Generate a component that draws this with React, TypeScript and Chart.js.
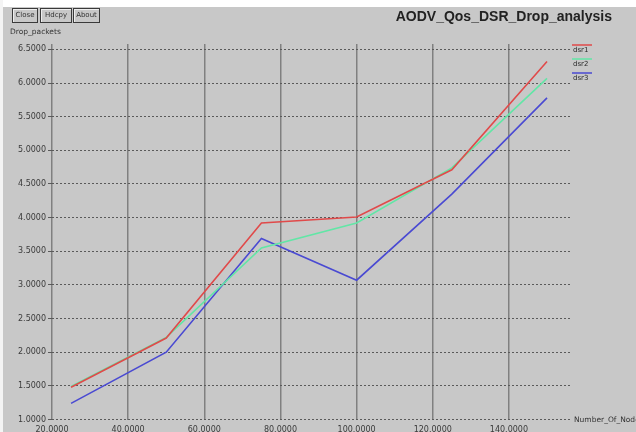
import React, { useEffect, useRef } from "react";
import { Chart, registerables } from "chart.js";

Chart.register(...registerables);

const NODES = [25, 50, 75, 100, 125, 150];
const DSR1 = [1.48, 2.21, 3.92, 4.01, 4.71, 6.32];
const DSR2 = [1.49, 2.22, 3.55, 3.92, 4.74, 6.07];
const DSR3 = [1.24, 2.0, 3.69, 3.07, 4.35, 5.78];
const SERIES_NAMES = ["dsr1", "dsr2", "dsr3"];
const SERIES_COLORS = ["#e04a4a", "#62e6a6", "#4a4ad2"];
const X_TICKS = [20, 40, 60, 80, 100, 120, 140];
const Y_TICKS = [1.0, 1.5, 2.0, 2.5, 3.0, 3.5, 4.0, 4.5, 5.0, 5.5, 6.0, 6.5];
const TITLE = "AODV_Qos_DSR_Drop_analysis";
const X_LABEL = "Number_Of_Nodes";
const Y_LABEL = "Drop_packets";
const BUTTONS = ["Close", "Hdcpy", "About"];

const BG = "#c8c8c8";
const FONT = "'DejaVu Sans', sans-serif";

const legendPlugin = {
  id: "xgraphLegend",
  afterDraw(chart: any) {
    const ctx = chart.ctx;
    ctx.save();
    chart.data.datasets.forEach((ds: any, i: number) => {
      const y = 45 + i * 14;
      ctx.strokeStyle = ds.borderColor;
      ctx.lineWidth = 1.5;
      ctx.beginPath();
      ctx.moveTo(572, y);
      ctx.lineTo(592, y);
      ctx.stroke();
      ctx.fillStyle = "#2a2a2a";
      ctx.font = "7px " + FONT;
      ctx.textBaseline = "middle";
      ctx.textAlign = "left";
      ctx.fillText(ds.label, 573, y + 5);
    });
    ctx.restore();
  },
};

function ChartCanvas() {
  const ref = useRef<HTMLCanvasElement | null>(null);
  useEffect(() => {
    if (!ref.current) return;
    const series = [DSR1, DSR2, DSR3];
    const chart = new Chart(ref.current, {
      type: "line",
      data: {
        datasets: series.map((vals, i) => ({
          label: SERIES_NAMES[i],
          data: NODES.map((x, j) => ({ x, y: vals[j] })),
          borderColor: SERIES_COLORS[i],
          backgroundColor: SERIES_COLORS[i],
          borderWidth: 1.6,
          pointRadius: 0,
          tension: 0,
          fill: false,
        })),
      },
      options: {
        animation: false,
        responsive: false,
        maintainAspectRatio: false,
        layout: { padding: { left: 0, right: 65, top: 44, bottom: 0 } },
        plugins: { legend: { display: false }, title: { display: false }, tooltip: { enabled: false } },
        scales: {
          x: {
            type: "linear",
            min: 20,
            max: 156.3,
            afterBuildTicks: (scale: any) => {
              scale.ticks = X_TICKS.map((v) => ({ value: v }));
            },
            afterFit: (scale: any) => {
              scale.height = 20.5;
            },
            ticks: {
              callback: (v: any) => Number(v).toFixed(4),
              font: { family: FONT, size: 8 },
              color: "#3a3a3a",
              padding: 6,
              maxRotation: 0,
              autoSkip: false,
            },
            grid: { color: "#808080", lineWidth: 1.5, drawTicks: false },
            border: { display: false },
          },
          y: {
            type: "linear",
            min: 1.0,
            max: 6.58,
            afterBuildTicks: (scale: any) => {
              scale.ticks = Y_TICKS.map((v) => ({ value: v }));
            },
            afterFit: (scale: any) => {
              scale.width = 52;
            },
            ticks: {
              callback: (v: any) => Number(v).toFixed(4),
              font: { family: FONT, size: 8 },
              color: "#3a3a3a",
              padding: 2,
              autoSkip: false,
            },
            grid: { color: "#5a5a5a", lineWidth: 1, drawTicks: true, tickLength: 4, tickColor: "#5a5a5a" },
            border: { display: false, dash: [2, 2] },
          },
        },
      },
      plugins: [legendPlugin],
    } as any);
    return () => chart.destroy();
  }, []);
  return <canvas ref={ref} width={636} height={440} style={{ position: "absolute", left: 0, top: 0 }} />;
}

export default function App() {
  useEffect(() => {
    document.body.style.margin = "0";
    document.body.style.overflow = "hidden";
  }, []);
  const btnX = [12, 40, 73];
  const btnW = [26, 32, 27];
  return (
    <div style={{ position: "relative", width: 636, height: 432, overflow: "hidden", background: BG, fontFamily: FONT }}>
      <div style={{ position: "absolute", left: 0, top: 0, width: 636, height: 7, background: "#fff" }} />
      <div style={{ position: "absolute", left: 0, top: 0, width: 3, height: 432, background: "#f4f4f4" }} />
      <ChartCanvas />
      {BUTTONS.map((b, i) => (
        <div
          key={b}
          style={{
            position: "absolute",
            left: btnX[i],
            top: 8,
            width: btnW[i] - 2,
            height: 13,
            border: "1px solid #3a3a3a",
            boxShadow: "inset 1px 1px 0 #eee",
            fontSize: 7,
            lineHeight: "13px",
            textAlign: "center",
            color: "#333",
          }}
        >
          {b}
        </div>
      ))}
      <div style={{ position: "absolute", left: 10, top: 27, fontSize: 7.5, color: "#333" }}>{Y_LABEL}</div>
      <div
        style={{
          position: "absolute",
          right: 24,
          top: 8,
          fontSize: 14,
          fontWeight: "bold",
          fontFamily: "'Liberation Sans', Arial, sans-serif",
          color: "#222",
          whiteSpace: "nowrap",
        }}
      >
        {TITLE}
      </div>
      <div style={{ position: "absolute", left: 574, top: 415, fontSize: 7.5, color: "#333", whiteSpace: "nowrap" }}>
        {X_LABEL}
      </div>
    </div>
  );
}
